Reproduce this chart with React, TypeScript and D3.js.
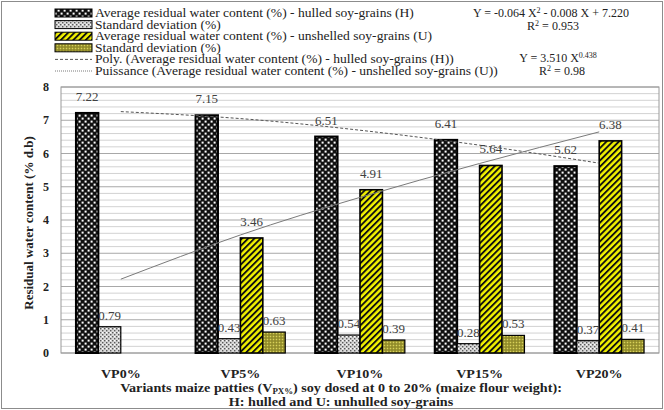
import React from "react";
import * as d3 from "d3";

// data
const categories = ["VP0%", "VP5%", "VP10%", "VP15%", "VP20%"];
const hulledMean = [7.22, 7.15, 6.51, 6.41, 5.62];
const hulledSD = [0.79, 0.43, 0.54, 0.28, 0.37];
const unhulledMean: (number | null)[] = [null, 3.46, 4.91, 5.64, 6.38];
const unhulledSD: (number | null)[] = [null, 0.63, 0.39, 0.53, 0.41];
// trend lines as drawn (read at the category centres)
const polyTrend = [7.26, 7.05, 6.7, 6.25, 5.71];
const powerTrend = [2.22, 3.55, 4.68, 5.7, 6.65];
const yTicks = [0, 1, 2, 3, 4, 5, 6, 7, 8];
const seriesKeys = ["hm", "hsd", "um", "usd"];

const legendLabels = [
  "Average residual water content (%) - hulled soy-grains (H)",
  "Standard deviation (%)",
  "Average residual water content (%) - unshelled soy-grains (U)",
  "Standard deviation (%)",
  "Poly. (Average residual water content (%) - hulled soy-grains (H))",
  "Puissance (Average residual water content (%) - unshelled soy-grains (U))",
];

const W = 664;
const H = 410;
const plot = { left: 61, right: 659, top: 87, bottom: 353 };
const font = "'Liberation Serif', 'Times New Roman', serif";

const fills: Record<string, string> = {
  hm: "url(#patH)",
  hsd: "url(#patHsd)",
  um: "url(#patU)",
  usd: "url(#patUsd)",
};
const strokeW: Record<string, number> = { hm: 2, hsd: 1.2, um: 1.6, usd: 1.2 };

// text stretched sideways, the reference text is wider than Times
function ST({ x, y, sx, children, ...rest }: any) {
  return (
    <text transform={`translate(${x},${y}) scale(${sx},1)`} {...rest}>
      {children}
    </text>
  );
}

export default function App() {
  const x = d3
    .scaleBand<string>()
    .domain(categories)
    .range([plot.left, plot.right])
    .paddingInner(0.25)
    .paddingOuter(0.125);
  const xs = d3.scaleBand<string>().domain(seriesKeys).range([0, x.bandwidth()]);
  const y = d3.scaleLinear().domain([0, 8]).range([plot.bottom, plot.top]);
  const cx = (i: number) => plot.left + (plot.right - plot.left) * ((i + 0.5) / categories.length);

  const line = d3
    .line<number>()
    .x((_, i) => cx(i))
    .y((d) => y(d))
    .curve(d3.curveNatural);

  const minor = d3.range(0, 8.01, 0.2).filter((v) => Math.abs(v - Math.round(v)) > 0.01);

  const values: Record<string, (number | null)[]> = {
    hm: hulledMean,
    hsd: hulledSD,
    um: unhulledMean,
    usd: unhulledSD,
  };

  const legendY = (i: number) => 13 + i * 11.6;

  return (
    <svg
      width={W}
      height={H}
      style={{ position: "absolute", left: 0, top: 0, background: "#fff" }}
      fontFamily={font}
    >
      <defs>
        <pattern id="patH" width="6" height="6" patternUnits="userSpaceOnUse">
          <rect width="6" height="6" fill="#111" />
          <rect x="0.6" y="0.6" width="2" height="2" fill="#fff" />
          <rect x="3.6" y="3.6" width="2" height="2" fill="#fff" />
        </pattern>
        <pattern id="patHsd" width="4" height="4" patternUnits="userSpaceOnUse">
          <rect width="4" height="4" fill="#d8d8d8" />
          <rect x="0" y="0" width="1.4" height="1.4" fill="#5a5a5a" />
          <rect x="2" y="2" width="1.4" height="1.4" fill="#5a5a5a" />
          <rect x="2" y="0" width="1" height="1" fill="#fff" />
        </pattern>
        <pattern
          id="patU"
          width="4.4"
          height="4.4"
          patternUnits="userSpaceOnUse"
          patternTransform="rotate(45)"
        >
          <rect width="4.4" height="4.4" fill="#f2f200" />
          <rect x="0" y="0" width="1.9" height="4.4" fill="#111" />
        </pattern>
        <pattern id="patUsd" width="3" height="3" patternUnits="userSpaceOnUse">
          <rect width="3" height="3" fill="#a39d32" />
          <rect x="0" y="0" width="1" height="1" fill="#d6cf60" />
          <rect x="1.5" y="1.5" width="1" height="1" fill="#5e5a1c" />
        </pattern>
      </defs>

      {/* outer frame */}
      <rect x={1.5} y={1.5} width={W - 3} height={H - 3} fill="none" stroke="#8c8c8c" />

      {/* gridlines */}
      {minor.map((v) => (
        <line key={"m" + v} x1={plot.left} x2={plot.right} y1={y(v)} y2={y(v)} stroke="#d2d2d2" strokeWidth={1} />
      ))}
      {yTicks.map((v) => (
        <line key={"g" + v} x1={plot.left} x2={plot.right} y1={y(v)} y2={y(v)} stroke="#a8a8a8" strokeWidth={1} />
      ))}
      <rect
        x={plot.left}
        y={plot.top}
        width={plot.right - plot.left}
        height={plot.bottom - plot.top}
        fill="none"
        stroke="#9a9a9a"
      />

      {/* bars */}
      {categories.map((c, i) =>
        seriesKeys.map((k) => {
          const v = values[k][i];
          if (v == null) return null;
          const bx = (x(c) as number) + (xs(k) as number);
          return (
            <rect
              key={c + k}
              x={bx}
              y={y(v)}
              width={xs.bandwidth()}
              height={y(0) - y(v)}
              fill={fills[k]}
              stroke="#000"
              strokeWidth={strokeW[k]}
            />
          );
        })
      )}

      {/* trend lines */}
      <path d={line(polyTrend) || ""} fill="none" stroke="#555" strokeWidth={1} strokeDasharray="3,2" />
      <path d={line(powerTrend) || ""} fill="none" stroke="#7a7a7a" strokeWidth={1} />

      {/* value labels */}
      {categories.map((c, i) =>
        seriesKeys.map((k) => {
          const v = values[k][i];
          if (v == null) return null;
          const bx = (x(c) as number) + (xs(k) as number) + xs.bandwidth() / 2;
          const sd = k === "hsd" || k === "usd";
          return (
            <ST
              key={"l" + c + k}
              x={bx}
              y={y(v) - (sd ? 7 : 12)}
              sx={1.08}
              textAnchor="middle"
              fontSize={12}
              fill="#404040"
            >
              {v.toFixed(2)}
            </ST>
          );
        })
      )}

      {/* y axis */}
      {yTicks.map((v) => (
        <text key={"t" + v} x={49} y={y(v) + 4} textAnchor="end" fontSize={12} fontWeight="bold" fill="#222">
          {v}
        </text>
      ))}
      <text
        transform={`translate(33,${(plot.top + plot.bottom) / 2 + 3}) rotate(-90)`}
        textAnchor="middle"
        fontSize={13}
        fontWeight="bold"
        fill="#222"
      >
        Residual water content (% d.b)
      </text>

      {/* x axis */}
      {categories.map((c) => (
        <ST
          key={"x" + c}
          x={(x(c) as number) + x.bandwidth() / 2}
          y={378}
          sx={1.17}
          textAnchor="middle"
          fontSize={12}
          fontWeight="bold"
          fill="#222"
        >
          {c}
        </ST>
      ))}
      <ST x={341} y={392} sx={1.18} textAnchor="middle" fontSize={12} fontWeight="bold" fill="#222">
        Variants maize patties (V
        <tspan fontSize={7.5} dy={2}>
          PX%
        </tspan>
        <tspan dy={-2}>) soy dosed at 0 to 20% (maize flour weight):</tspan>
      </ST>
      <ST x={341} y={406} sx={1.18} textAnchor="middle" fontSize={12} fontWeight="bold" fill="#222">
        H: hulled and U: unhulled soy-grains
      </ST>

      {/* legend */}
      {legendLabels.map((t, i) => {
        const ly = legendY(i);
        const k = seriesKeys[i];
        return (
          <g key={"lg" + i}>
            {i < 4 ? (
              <rect x={55} y={ly - 4} width={37} height={8} fill={fills[k]} stroke="#000" strokeWidth={1} />
            ) : (
              <line
                x1={55}
                x2={92}
                y1={ly}
                y2={ly}
                stroke={i === 4 ? "#555" : "#7a7a7a"}
                strokeDasharray={i === 4 ? "3,2" : "1,1"}
              />
            )}
            <ST x={95} y={ly + 4} sx={1.18} fontSize={11.5} fill="#222">
              {t}
            </ST>
          </g>
        );
      })}

      {/* fitted equations */}
      <text x={551} y={17} textAnchor="middle" fontSize={12} fill="#222">
        Y = -0.064 X<tspan fontSize={8} dy={-4}>2</tspan>
        <tspan dy={4}> - 0.008 X + 7.220</tspan>
      </text>
      <text x={553} y={30} textAnchor="middle" fontSize={12} fill="#222">
        R<tspan fontSize={8} dy={-4}>2</tspan>
        <tspan dy={4}> = 0.953</tspan>
      </text>
      <text x={558} y={62} textAnchor="middle" fontSize={12} fill="#222">
        Y = 3.510 X<tspan fontSize={8} dy={-4}>0.438</tspan>
      </text>
      <text x={562} y={75} textAnchor="middle" fontSize={12} fill="#222">
        R<tspan fontSize={8} dy={-4}>2</tspan>
        <tspan dy={4}> = 0.98</tspan>
      </text>
    </svg>
  );
}
